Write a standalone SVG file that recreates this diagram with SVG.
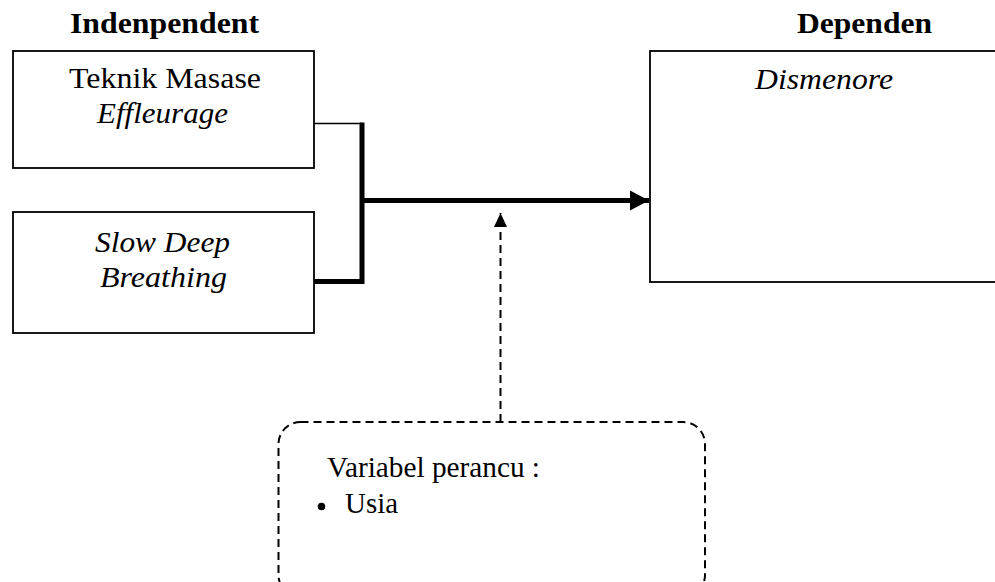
<svg xmlns="http://www.w3.org/2000/svg" width="995" height="582" viewBox="0 0 995 582">
<style>
.box{fill:#fff;stroke:#000;stroke-width:1.8}
.t{font-family:"Liberation Serif",serif;font-size:30px;fill:#000}
.b{font-weight:bold}
.i{font-style:italic}
.thick{stroke:#000;stroke-width:5;fill:none}
.thin{stroke:#000;stroke-width:1.5;fill:none}
.dash{stroke:#000;stroke-width:2;stroke-dasharray:8 5;fill:none}
</style>
<defs>
<marker id="ah" markerUnits="userSpaceOnUse" markerWidth="20" markerHeight="22" refX="19" refY="11" orient="auto">
<path d="M0,1 L19,11 L0,21 Z" fill="#000"/>
</marker>
<marker id="ah2" markerUnits="userSpaceOnUse" markerWidth="15" markerHeight="14" refX="14" refY="7" orient="auto">
<path d="M0,0.5 L14,7 L0,13.5 Z" fill="#000"/>
</marker>
</defs>
<g id="headings">
<text class="t b" x="70" y="33" textLength="189" lengthAdjust="spacingAndGlyphs">Indenpendent</text>
<text class="t b" x="797" y="33" textLength="135" lengthAdjust="spacingAndGlyphs">Dependen</text>
</g>
<g id="node-teknik">
<rect class="box" x="13" y="51" width="301" height="117"/>
<text class="t" x="69" y="88" textLength="192" lengthAdjust="spacingAndGlyphs">Teknik Masase</text>
<text class="t i" x="97" y="123" textLength="131" lengthAdjust="spacingAndGlyphs">Effleurage</text>
</g>
<g id="node-slow">
<rect class="box" x="13" y="212" width="301" height="121"/>
<text class="t i" x="95" y="252" textLength="135" lengthAdjust="spacingAndGlyphs">Slow Deep</text>
<text class="t i" x="100" y="287" textLength="127" lengthAdjust="spacingAndGlyphs">Breathing</text>
</g>
<g id="node-dismenore">
<rect class="box" x="650" y="51" width="400" height="231"/>
<text class="t i" x="755" y="89" textLength="138" lengthAdjust="spacingAndGlyphs">Dismenore</text>
</g>
<g id="node-perancu">
<rect class="dash" x="278.5" y="422" width="426.5" height="175" rx="22" ry="22"/>
<text class="t" x="327" y="477" textLength="213" lengthAdjust="spacingAndGlyphs">Variabel perancu :</text>
<circle cx="321.5" cy="506.5" r="3.8" fill="#000"/>
<text class="t" x="345" y="513" textLength="53" lengthAdjust="spacingAndGlyphs">Usia</text>
</g>
<g id="connectors">
<polyline class="thin" points="314,123.5 362,123.5"/>
<polyline class="thick" points="314,281.5 362,281.5 362,122.5"/>
<line class="thick" x1="362" y1="200.5" x2="649" y2="200.5" marker-end="url(#ah)"/>
<line class="dash" x1="500.5" y1="422" x2="500.5" y2="213" marker-end="url(#ah2)"/>
</g>
</svg>
